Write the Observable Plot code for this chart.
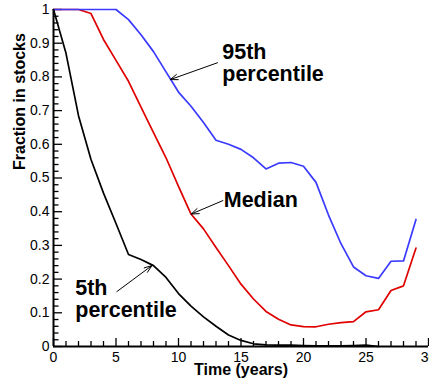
<!DOCTYPE html>
<html>
<head>
<meta charset="utf-8">
<script src="https://cdn.jsdelivr.net/npm/d3@7"></script>
<script src="https://cdn.jsdelivr.net/npm/@observablehq/plot@0.6"></script>
<style>
  html, body { margin: 0; padding: 0; background: #fff; }
  #chart { width: 429px; height: 383px; overflow: hidden; }
</style>
</head>
<body>
<div id="chart"></div>
<script>
// ---- data ----
const years = [0,1,2,3,4,5,6,7,8,9,10,11,12,13,14,15,16,17,18,19,20,21,22,23,24,25,26,27,28,29];
const p95 = [1,1,1,1,1,1,0.97,0.925,0.875,0.815,0.755,0.713,0.665,0.612,0.600,0.585,0.560,0.527,0.544,0.546,0.535,0.487,0.39,0.305,0.236,0.21,0.202,0.253,0.254,0.377];
const median = [1,1,1,0.988,0.911,0.849,0.787,0.71,0.635,0.56,0.475,0.393,0.349,0.294,0.24,0.185,0.141,0.104,0.081,0.064,0.059,0.0585,0.066,0.071,0.074,0.103,0.109,0.166,0.180,0.292];
const p5 = [1,0.87,0.685,0.555,0.455,0.365,0.273,0.258,0.24,0.205,0.157,0.12,0.088,0.06,0.034,0.018,0.008,0.005,0.004,0.004,0.003,0.002,0.002,0.002,0.003,0.004,0];

const xTicks = [0,5,10,15,20,25,30];
const xTickLabels = ["0","5","10","15","20","25","30"];
const xMinor = [1,2,3,4,6,7,8,9,11,12,13,14,16,17,18,19,21,22,23,24,26,27,28,29];
const yTicks = [0,0.1,0.2,0.3,0.4,0.5,0.6,0.7,0.8,0.9,1];
const yTickLabels = ["0","0.1","0.2","0.3","0.4","0.5","0.6","0.7","0.8","0.9","1"];
const yMinor = d3.range(0, 50).filter(i => i % 5 !== 0).map(i => i / 50);

// annotations (data units)
const annText = ["95th\npercentile", "Median", "5th\npercentile"];
const annX = [13.5, 13.62, 1.74];
const annY = [0.898, 0.459, 0.197];
const arrX1 = [13.12, 13.55, 5.07];
const arrY1 = [0.842, 0.433, 0.163];
const arrX2 = [9.34, 11.02, 7.87];
const arrY2 = [0.792, 0.393, 0.240];

// ---- build ----
const toRows = vals => vals.map((v, i) => ({t: years[i], v}));
const rows95 = toRows(p95), rowsMed = toRows(median), rows5 = toRows(p5);
const ann = annText.map((s, i) => ({s, x: annX[i], y: annY[i]}));
const arrows = arrX1.map((x1, i) => ({x1, y1: arrY1[i], x2: arrX2[i], y2: arrY2[i]}));

const W = 429, H = 383, mL = 53, mR = 1, mT = 9, mB = 37;
const plotW = W - mL - mR, plotH = H - mT - mB;
const xLab = new Map(xTicks.map((t, i) => [t, xTickLabels[i]]));
const yLab = new Map(yTicks.map((t, i) => [t, yTickLabels[i]]));

const chart = Plot.plot({
  width: W, height: H,
  marginLeft: mL, marginRight: mR, marginTop: mT, marginBottom: mB,
  style: {fontFamily: "'Liberation Sans', Arial, sans-serif", fontSize: "14px", color: "#000", background: "#fff"},
  x: {domain: [0, 30], ticks: xTicks, tickSize: 0, tickPadding: 6, tickFormat: d => xLab.get(d), label: null},
  y: {domain: [0, 1], ticks: yTicks, tickSize: 0, tickPadding: 4, tickFormat: d => yLab.get(d), label: null},
  marks: [
    Plot.tickY(yTicks, {y: d => d, insetRight: plotW - 9, stroke: "#000", strokeWidth: 1.3}),
    Plot.tickY(yMinor, {y: d => d, insetRight: plotW - 5.5, stroke: "#000", strokeWidth: 1.3}),
    Plot.tickX(xTicks, {x: d => d, insetTop: plotH - 8, stroke: "#000", strokeWidth: 1.3}),
    Plot.tickX(xMinor, {x: d => d, insetTop: plotH - 5, stroke: "#000", strokeWidth: 1.3}),
    Plot.line(rows5, {x: "t", y: "v", stroke: "#000", strokeWidth: 1.7}),
    Plot.line(rowsMed, {x: "t", y: "v", stroke: "#e00000", strokeWidth: 1.7}),
    Plot.line(rows95, {x: "t", y: "v", stroke: "#3a3aff", strokeWidth: 1.7}),
    Plot.ruleX([0], {stroke: "#000", strokeWidth: 2}),
    Plot.ruleY([0], {stroke: "#000", strokeWidth: 2}),
    Plot.arrow(arrows, {x1: "x1", y1: "y1", x2: "x2", y2: "y2", stroke: "#000", strokeWidth: 1, headLength: 12, headAngle: 40}),
    Plot.text(ann, {x: "x", y: "y", text: "s", textAnchor: "start", lineAnchor: "top", lineHeight: 1, fontSize: 21.5, fontWeight: "bold", fill: "#000"}),
    Plot.text(["Time (years)"], {frameAnchor: "bottom", lineAnchor: "middle", dy: 23, fontSize: 16, fontWeight: "bold", fill: "#000"}),
    Plot.text(["Fraction in stocks"], {frameAnchor: "left", lineAnchor: "middle", rotate: -90, dx: -34, dy: -8, fontSize: 16, fontWeight: "bold", fill: "#000"})
  ]
});
document.getElementById("chart").appendChild(chart);
</script>
</body>
</html>
